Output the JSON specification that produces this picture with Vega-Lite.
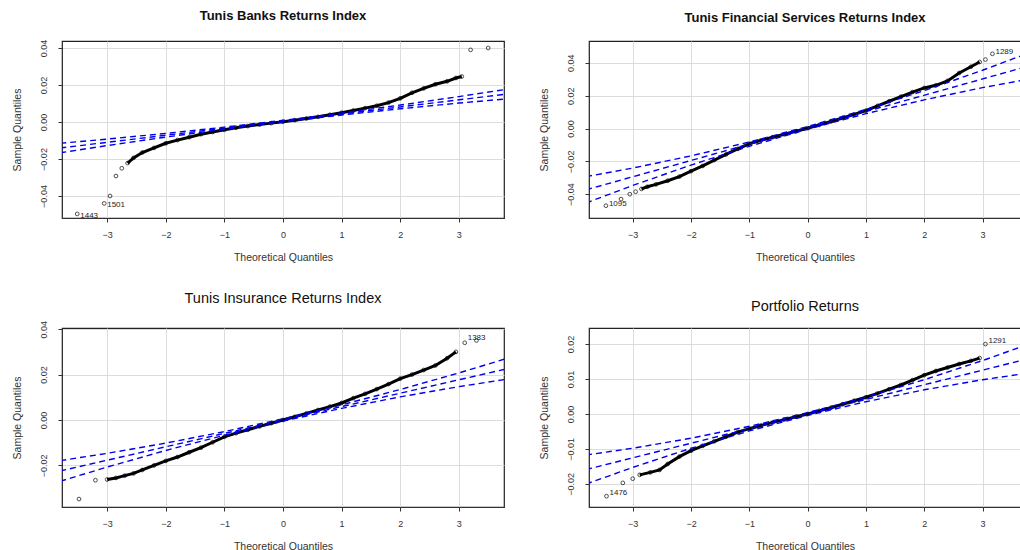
{
  "$schema": "https://vega.github.io/schema/vega-lite/v6.json",
  "background": "white",
  "padding": {"left": 11, "top": 9, "right": 0, "bottom": 0},
  "config": {
    "view": {"stroke": "#222222", "strokeWidth": 1.2},
    "axis": {
      "grid": true, "gridColor": "#dcdcdc", "gridWidth": 1,
      "domain": true, "domainColor": "#333333",
      "tickColor": "#333333", "tickSize": 4,
      "labelFont": "Liberation Sans", "labelFontSize": 9, "labelColor": "#333333",
      "titleFont": "Liberation Sans", "titleFontSize": 10.5, "titleFontWeight": "normal", "titleColor": "#333333"
    },
    "axisX": {"labelPadding": 8, "titlePadding": 13},
    "axisY": {"labelPadding": 9.5, "titlePadding": 17, "labelAngle": 270},
    "title": {"font": "Liberation Sans", "color": "#111111", "offset": 16},
    "point": {"shape": "circle", "filled": false, "color": "black", "size": 14, "strokeWidth": 1}
  },
  "datasets": {
    "pts": [
      {"p": "A", "q": -3.51, "s": -0.0497, "lab": "1443"},
      {"p": "A", "q": -3.05, "s": -0.0440, "lab": "1501"},
      {"p": "A", "q": -2.95, "s": -0.0400},
      {"p": "A", "q": -2.85, "s": -0.0292},
      {"p": "A", "q": -2.75, "s": -0.0250},
      {"p": "A", "q": -2.65, "s": -0.0222},
      {"p": "A", "q": -2.55, "s": -0.0194},
      {"p": "A", "q": -2.4, "s": -0.0165},
      {"p": "A", "q": -2.2, "s": -0.0140},
      {"p": "A", "q": -2.0, "s": -0.0115},
      {"p": "A", "q": -1.8, "s": -0.0098},
      {"p": "A", "q": -1.6, "s": -0.0082},
      {"p": "A", "q": -1.4, "s": -0.0066},
      {"p": "A", "q": -1.2, "s": -0.0054},
      {"p": "A", "q": -1.0, "s": -0.0042},
      {"p": "A", "q": -0.8, "s": -0.0031},
      {"p": "A", "q": -0.6, "s": -0.0022},
      {"p": "A", "q": -0.4, "s": -0.0014},
      {"p": "A", "q": -0.2, "s": -0.0006},
      {"p": "A", "q": 0.0, "s": 0.0002},
      {"p": "A", "q": 0.2, "s": 0.0010},
      {"p": "A", "q": 0.4, "s": 0.0019},
      {"p": "A", "q": 0.6, "s": 0.0028},
      {"p": "A", "q": 0.8, "s": 0.0039},
      {"p": "A", "q": 1.0, "s": 0.0050},
      {"p": "A", "q": 1.2, "s": 0.0062},
      {"p": "A", "q": 1.4, "s": 0.0075},
      {"p": "A", "q": 1.6, "s": 0.0088},
      {"p": "A", "q": 1.8, "s": 0.0105},
      {"p": "A", "q": 2.0, "s": 0.0128},
      {"p": "A", "q": 2.2, "s": 0.0158},
      {"p": "A", "q": 2.4, "s": 0.0182},
      {"p": "A", "q": 2.6, "s": 0.0204},
      {"p": "A", "q": 2.8, "s": 0.0220},
      {"p": "A", "q": 2.95, "s": 0.0238},
      {"p": "A", "q": 3.05, "s": 0.0246},
      {"p": "A", "q": 3.2, "s": 0.0390},
      {"p": "A", "q": 3.5, "s": 0.0400},

      {"p": "B", "q": -3.46, "s": -0.0470, "lab": "1095"},
      {"p": "B", "q": -3.2, "s": -0.0430},
      {"p": "B", "q": -3.05, "s": -0.0400},
      {"p": "B", "q": -2.95, "s": -0.0385},
      {"p": "B", "q": -2.85, "s": -0.0368},
      {"p": "B", "q": -2.75, "s": -0.0355},
      {"p": "B", "q": -2.6, "s": -0.0340},
      {"p": "B", "q": -2.4, "s": -0.0318},
      {"p": "B", "q": -2.2, "s": -0.0293},
      {"p": "B", "q": -2.0, "s": -0.0260},
      {"p": "B", "q": -1.8, "s": -0.0228},
      {"p": "B", "q": -1.6, "s": -0.0192},
      {"p": "B", "q": -1.4, "s": -0.0158},
      {"p": "B", "q": -1.2, "s": -0.0124},
      {"p": "B", "q": -1.0, "s": -0.0093},
      {"p": "B", "q": -0.8, "s": -0.0072},
      {"p": "B", "q": -0.6, "s": -0.0053},
      {"p": "B", "q": -0.4, "s": -0.0035},
      {"p": "B", "q": -0.2, "s": -0.0017},
      {"p": "B", "q": 0.0, "s": 0.0002},
      {"p": "B", "q": 0.2, "s": 0.0022},
      {"p": "B", "q": 0.4, "s": 0.0043},
      {"p": "B", "q": 0.6, "s": 0.0064},
      {"p": "B", "q": 0.8, "s": 0.0086},
      {"p": "B", "q": 1.0, "s": 0.0109},
      {"p": "B", "q": 1.2, "s": 0.0138},
      {"p": "B", "q": 1.4, "s": 0.0166},
      {"p": "B", "q": 1.6, "s": 0.0194},
      {"p": "B", "q": 1.8, "s": 0.0222},
      {"p": "B", "q": 2.0, "s": 0.0247},
      {"p": "B", "q": 2.2, "s": 0.0263},
      {"p": "B", "q": 2.4, "s": 0.0290},
      {"p": "B", "q": 2.6, "s": 0.0338},
      {"p": "B", "q": 2.8, "s": 0.0376},
      {"p": "B", "q": 2.95, "s": 0.0405},
      {"p": "B", "q": 3.05, "s": 0.0420},
      {"p": "B", "q": 3.17, "s": 0.0455, "lab": "1289"},

      {"p": "C", "q": -3.48, "s": -0.0348},
      {"p": "C", "q": -3.2, "s": -0.0265},
      {"p": "C", "q": -3.0, "s": -0.0262},
      {"p": "C", "q": -2.85, "s": -0.0255},
      {"p": "C", "q": -2.7, "s": -0.0245},
      {"p": "C", "q": -2.55, "s": -0.0235},
      {"p": "C", "q": -2.4, "s": -0.0220},
      {"p": "C", "q": -2.2, "s": -0.0200},
      {"p": "C", "q": -2.0, "s": -0.0180},
      {"p": "C", "q": -1.8, "s": -0.0163},
      {"p": "C", "q": -1.6, "s": -0.0142},
      {"p": "C", "q": -1.4, "s": -0.0122},
      {"p": "C", "q": -1.2, "s": -0.0098},
      {"p": "C", "q": -1.0, "s": -0.0074},
      {"p": "C", "q": -0.8, "s": -0.0058},
      {"p": "C", "q": -0.6, "s": -0.0043},
      {"p": "C", "q": -0.4, "s": -0.0028},
      {"p": "C", "q": -0.2, "s": -0.0014},
      {"p": "C", "q": 0.0, "s": 0.0000},
      {"p": "C", "q": 0.2, "s": 0.0014},
      {"p": "C", "q": 0.4, "s": 0.0029},
      {"p": "C", "q": 0.6, "s": 0.0044},
      {"p": "C", "q": 0.8, "s": 0.0059},
      {"p": "C", "q": 1.0, "s": 0.0075},
      {"p": "C", "q": 1.2, "s": 0.0096},
      {"p": "C", "q": 1.4, "s": 0.0115},
      {"p": "C", "q": 1.6, "s": 0.0136},
      {"p": "C", "q": 1.8, "s": 0.0158},
      {"p": "C", "q": 2.0, "s": 0.0182},
      {"p": "C", "q": 2.2, "s": 0.0200},
      {"p": "C", "q": 2.4, "s": 0.0220},
      {"p": "C", "q": 2.6, "s": 0.0240},
      {"p": "C", "q": 2.8, "s": 0.0272},
      {"p": "C", "q": 2.95, "s": 0.0300},
      {"p": "C", "q": 3.1, "s": 0.0340, "lab": "1383"},
      {"p": "C", "q": 3.3, "s": 0.0350},

      {"p": "D", "q": -3.45, "s": -0.0235, "lab": "1476"},
      {"p": "D", "q": -3.17, "s": -0.0197},
      {"p": "D", "q": -3.0, "s": -0.0185},
      {"p": "D", "q": -2.88, "s": -0.0174},
      {"p": "D", "q": -2.7, "s": -0.0167},
      {"p": "D", "q": -2.54, "s": -0.0160},
      {"p": "D", "q": -2.4, "s": -0.0143},
      {"p": "D", "q": -2.2, "s": -0.0122},
      {"p": "D", "q": -2.0, "s": -0.0105},
      {"p": "D", "q": -1.8, "s": -0.0091},
      {"p": "D", "q": -1.6, "s": -0.0078},
      {"p": "D", "q": -1.4, "s": -0.0065},
      {"p": "D", "q": -1.2, "s": -0.0052},
      {"p": "D", "q": -1.0, "s": -0.0042},
      {"p": "D", "q": -0.8, "s": -0.0033},
      {"p": "D", "q": -0.6, "s": -0.0024},
      {"p": "D", "q": -0.4, "s": -0.0016},
      {"p": "D", "q": -0.2, "s": -0.0008},
      {"p": "D", "q": 0.0, "s": 0.0000},
      {"p": "D", "q": 0.2, "s": 0.0009},
      {"p": "D", "q": 0.4, "s": 0.0018},
      {"p": "D", "q": 0.6, "s": 0.0028},
      {"p": "D", "q": 0.8, "s": 0.0038},
      {"p": "D", "q": 1.0, "s": 0.0048},
      {"p": "D", "q": 1.2, "s": 0.0059},
      {"p": "D", "q": 1.4, "s": 0.0071},
      {"p": "D", "q": 1.6, "s": 0.0083},
      {"p": "D", "q": 1.8, "s": 0.0097},
      {"p": "D", "q": 2.0, "s": 0.0111},
      {"p": "D", "q": 2.2, "s": 0.0123},
      {"p": "D", "q": 2.4, "s": 0.0133},
      {"p": "D", "q": 2.6, "s": 0.0143},
      {"p": "D", "q": 2.8, "s": 0.0152},
      {"p": "D", "q": 2.95, "s": 0.0160},
      {"p": "D", "q": 3.05, "s": 0.0200, "lab": "1291"}
    ],
    "env": [
      {"p": "A", "k": "c", "q": -3.8, "s": -0.01405}, {"p": "A", "k": "c", "q": 3.8, "s": 0.01505},
      {"p": "A", "k": "u", "q": -3.8, "s": -0.01148}, {"p": "A", "k": "u", "q": -3, "s": -0.00924}, {"p": "A", "k": "u", "q": -2, "s": -0.00616}, {"p": "A", "k": "u", "q": -1, "s": -0.00278}, {"p": "A", "k": "u", "q": 0, "s": 0.0009}, {"p": "A", "k": "u", "q": 1, "s": 0.00488}, {"p": "A", "k": "u", "q": 2, "s": 0.00916}, {"p": "A", "k": "u", "q": 3, "s": 0.01374}, {"p": "A", "k": "u", "q": 3.8, "s": 0.01762},
      {"p": "A", "k": "l", "q": -3.8, "s": -0.01662}, {"p": "A", "k": "l", "q": -3, "s": -0.01274}, {"p": "A", "k": "l", "q": -2, "s": -0.00816}, {"p": "A", "k": "l", "q": -1, "s": -0.00388}, {"p": "A", "k": "l", "q": 0, "s": 0.0001}, {"p": "A", "k": "l", "q": 1, "s": 0.00378}, {"p": "A", "k": "l", "q": 2, "s": 0.00716}, {"p": "A", "k": "l", "q": 3, "s": 0.01024}, {"p": "A", "k": "l", "q": 3.8, "s": 0.01248},

      {"p": "B", "k": "c", "q": -3.8, "s": -0.03733}, {"p": "B", "k": "c", "q": 3.8, "s": 0.03813},
      {"p": "B", "k": "u", "q": -3.8, "s": -0.02931}, {"p": "B", "k": "u", "q": -3, "s": -0.02409}, {"p": "B", "k": "u", "q": -2, "s": -0.01666}, {"p": "B", "k": "u", "q": -1, "s": -0.00823}, {"p": "B", "k": "u", "q": 0, "s": 0.0012}, {"p": "B", "k": "u", "q": 1, "s": 0.01163}, {"p": "B", "k": "u", "q": 2, "s": 0.02306}, {"p": "B", "k": "u", "q": 3, "s": 0.03549}, {"p": "B", "k": "u", "q": 3.8, "s": 0.04615},
      {"p": "B", "k": "l", "q": -3.8, "s": -0.04535}, {"p": "B", "k": "l", "q": -3, "s": -0.03469}, {"p": "B", "k": "l", "q": -2, "s": -0.02226}, {"p": "B", "k": "l", "q": -1, "s": -0.01083}, {"p": "B", "k": "l", "q": 0, "s": -0.0004}, {"p": "B", "k": "l", "q": 1, "s": 0.00903}, {"p": "B", "k": "l", "q": 2, "s": 0.01746}, {"p": "B", "k": "l", "q": 3, "s": 0.02489}, {"p": "B", "k": "l", "q": 3.8, "s": 0.03011},

      {"p": "C", "k": "c", "q": -3.8, "s": -0.02242}, {"p": "C", "k": "c", "q": 3.8, "s": 0.02242},
      {"p": "C", "k": "u", "q": -3.8, "s": -0.01788}, {"p": "C", "k": "u", "q": -3, "s": -0.01468}, {"p": "C", "k": "u", "q": -2, "s": -0.01018}, {"p": "C", "k": "u", "q": -1, "s": -0.00512}, {"p": "C", "k": "u", "q": 0, "s": 0.0005}, {"p": "C", "k": "u", "q": 1, "s": 0.00668}, {"p": "C", "k": "u", "q": 2, "s": 0.01342}, {"p": "C", "k": "u", "q": 3, "s": 0.02072}, {"p": "C", "k": "u", "q": 3.8, "s": 0.02696},
      {"p": "C", "k": "l", "q": -3.8, "s": -0.02696}, {"p": "C", "k": "l", "q": -3, "s": -0.02072}, {"p": "C", "k": "l", "q": -2, "s": -0.01342}, {"p": "C", "k": "l", "q": -1, "s": -0.00668}, {"p": "C", "k": "l", "q": 0, "s": -0.0005}, {"p": "C", "k": "l", "q": 1, "s": 0.00512}, {"p": "C", "k": "l", "q": 2, "s": 0.01018}, {"p": "C", "k": "l", "q": 3, "s": 0.01468}, {"p": "C", "k": "l", "q": 3.8, "s": 0.01788},

      {"p": "D", "k": "c", "q": -3.8, "s": -0.01588}, {"p": "D", "k": "c", "q": 3.8, "s": 0.01588},
      {"p": "D", "k": "u", "q": -3.8, "s": -0.01173}, {"p": "D", "k": "u", "q": -3, "s": -0.0098}, {"p": "D", "k": "u", "q": -2, "s": -0.00692}, {"p": "D", "k": "u", "q": -1, "s": -0.00352}, {"p": "D", "k": "u", "q": 0, "s": 0.0004}, {"p": "D", "k": "u", "q": 1, "s": 0.00484}, {"p": "D", "k": "u", "q": 2, "s": 0.0098}, {"p": "D", "k": "u", "q": 3, "s": 0.01528}, {"p": "D", "k": "u", "q": 3.8, "s": 0.02003},
      {"p": "D", "k": "l", "q": -3.8, "s": -0.02003}, {"p": "D", "k": "l", "q": -3, "s": -0.01528}, {"p": "D", "k": "l", "q": -2, "s": -0.0098}, {"p": "D", "k": "l", "q": -1, "s": -0.00484}, {"p": "D", "k": "l", "q": 0, "s": -0.0004}, {"p": "D", "k": "l", "q": 1, "s": 0.00352}, {"p": "D", "k": "l", "q": 2, "s": 0.00692}, {"p": "D", "k": "l", "q": 3, "s": 0.0098}, {"p": "D", "k": "l", "q": 3.8, "s": 0.01173}
    ]
  },
  "spacing": 26,
  "vconcat": [
    {
      "spacing": 33,
      "hconcat": [
        {
          "title": {"text": "Tunis Banks Returns Index", "fontSize": 13, "fontWeight": "bold"},
          "width": 442, "height": 177,
          "encoding": {
            "x": {"field": "q", "type": "quantitative", "scale": {"domain": [-3.77, 3.77], "nice": false, "zero": false}, "axis": {"values": [-3, -2, -1, 0, 1, 2, 3], "format": "d", "title": "Theoretical Quantiles"}},
            "y": {"field": "s", "type": "quantitative", "scale": {"domain": [-0.0519, 0.0438], "nice": false, "zero": false}, "axis": {"values": [-0.04, -0.02, 0, 0.02, 0.04], "format": ".2f", "title": "Sample Quantiles"}}
          },
          "layer": [
            {"data": {"name": "pts"}, "transform": [{"filter": "datum.p == 'A' && datum.q >= -2.65 && datum.q <= 3.05"}], "mark": {"type": "line", "color": "black", "strokeWidth": 3}},
            {"data": {"name": "pts"}, "transform": [{"filter": "datum.p == 'A'"}], "mark": {"type": "point"}},
            {"data": {"name": "pts"}, "transform": [{"filter": "datum.p == 'A' && isValid(datum.lab)"}], "mark": {"type": "text", "align": "left", "dx": 3, "dy": 2, "fontSize": 8, "font": "Liberation Sans", "color": "#222222"}, "encoding": {"text": {"field": "lab"}}},
            {"data": {"name": "env"}, "transform": [{"filter": "datum.p == 'A'"}], "mark": {"type": "line", "color": "#0000ee", "strokeDash": [6, 4], "strokeWidth": 1.4, "clip": true}, "encoding": {"detail": {"field": "k"}}}
          ]
        },
        {
          "title": {"text": "Tunis Financial Services Returns Index", "fontSize": 13, "fontWeight": "bold"},
          "width": 432, "height": 177,
          "encoding": {
            "x": {"field": "q", "type": "quantitative", "scale": {"domain": [-3.75, 3.66], "nice": false, "zero": false}, "axis": {"values": [-3, -2, -1, 0, 1, 2, 3], "format": "d", "title": "Theoretical Quantiles"}},
            "y": {"field": "s", "type": "quantitative", "scale": {"domain": [-0.0545, 0.0533], "nice": false, "zero": false}, "axis": {"values": [-0.04, -0.02, 0, 0.02, 0.04], "format": ".2f", "title": "Sample Quantiles"}}
          },
          "layer": [
            {"data": {"name": "pts"}, "transform": [{"filter": "datum.p == 'B' && datum.q >= -2.85 && datum.q <= 2.95"}], "mark": {"type": "line", "color": "black", "strokeWidth": 3}},
            {"data": {"name": "pts"}, "transform": [{"filter": "datum.p == 'B'"}], "mark": {"type": "point"}},
            {"data": {"name": "pts"}, "transform": [{"filter": "datum.p == 'B' && isValid(datum.lab)"}], "mark": {"type": "text", "align": "left", "dx": 3, "dy": -2, "fontSize": 8, "font": "Liberation Sans", "color": "#222222"}, "encoding": {"text": {"field": "lab"}}},
            {"data": {"name": "env"}, "transform": [{"filter": "datum.p == 'B'"}], "mark": {"type": "line", "color": "#0000ee", "strokeDash": [6, 4], "strokeWidth": 1.4, "clip": true}, "encoding": {"detail": {"field": "k"}}}
          ]
        }
      ]
    },
    {
      "spacing": 33,
      "hconcat": [
        {
          "title": {"text": "Tunis Insurance Returns Index", "fontSize": 14.5, "fontWeight": "normal", "offset": 13.5},
          "width": 442, "height": 179,
          "encoding": {
            "x": {"field": "q", "type": "quantitative", "scale": {"domain": [-3.77, 3.77], "nice": false, "zero": false}, "axis": {"values": [-3, -2, -1, 0, 1, 2, 3], "format": "d", "title": "Theoretical Quantiles"}},
            "y": {"field": "s", "type": "quantitative", "scale": {"domain": [-0.0383, 0.0405], "nice": false, "zero": false}, "axis": {"values": [-0.02, 0, 0.02, 0.04], "format": ".2f", "title": "Sample Quantiles"}}
          },
          "layer": [
            {"data": {"name": "pts"}, "transform": [{"filter": "datum.p == 'C' && datum.q >= -3.0 && datum.q <= 2.95"}], "mark": {"type": "line", "color": "black", "strokeWidth": 3}},
            {"data": {"name": "pts"}, "transform": [{"filter": "datum.p == 'C'"}], "mark": {"type": "point"}},
            {"data": {"name": "pts"}, "transform": [{"filter": "datum.p == 'C' && isValid(datum.lab)"}], "mark": {"type": "text", "align": "left", "dx": 3, "dy": -5, "fontSize": 8, "font": "Liberation Sans", "color": "#222222"}, "encoding": {"text": {"field": "lab"}}},
            {"data": {"name": "env"}, "transform": [{"filter": "datum.p == 'C'"}], "mark": {"type": "line", "color": "#0000ee", "strokeDash": [6, 4], "strokeWidth": 1.4, "clip": true}, "encoding": {"detail": {"field": "k"}}}
          ]
        },
        {
          "title": {"text": "Portfolio Returns", "fontSize": 14.5, "fontWeight": "normal", "offset": 13.5},
          "width": 432, "height": 179,
          "encoding": {
            "x": {"field": "q", "type": "quantitative", "scale": {"domain": [-3.75, 3.66], "nice": false, "zero": false}, "axis": {"values": [-3, -2, -1, 0, 1, 2, 3], "format": "d", "title": "Theoretical Quantiles"}},
            "y": {"field": "s", "type": "quantitative", "scale": {"domain": [-0.0266, 0.0246], "nice": false, "zero": false}, "axis": {"values": [-0.02, -0.01, 0, 0.01, 0.02], "format": ".2f", "title": "Sample Quantiles"}}
          },
          "layer": [
            {"data": {"name": "pts"}, "transform": [{"filter": "datum.p == 'D' && datum.q >= -2.88 && datum.q <= 2.95"}], "mark": {"type": "line", "color": "black", "strokeWidth": 3}},
            {"data": {"name": "pts"}, "transform": [{"filter": "datum.p == 'D'"}], "mark": {"type": "point"}},
            {"data": {"name": "pts"}, "transform": [{"filter": "datum.p == 'D' && isValid(datum.lab)"}], "mark": {"type": "text", "align": "left", "dx": 3, "dy": -3, "fontSize": 8, "font": "Liberation Sans", "color": "#222222"}, "encoding": {"text": {"field": "lab"}}},
            {"data": {"name": "env"}, "transform": [{"filter": "datum.p == 'D'"}], "mark": {"type": "line", "color": "#0000ee", "strokeDash": [6, 4], "strokeWidth": 1.4, "clip": true}, "encoding": {"detail": {"field": "k"}}}
          ]
        }
      ]
    }
  ]
}
